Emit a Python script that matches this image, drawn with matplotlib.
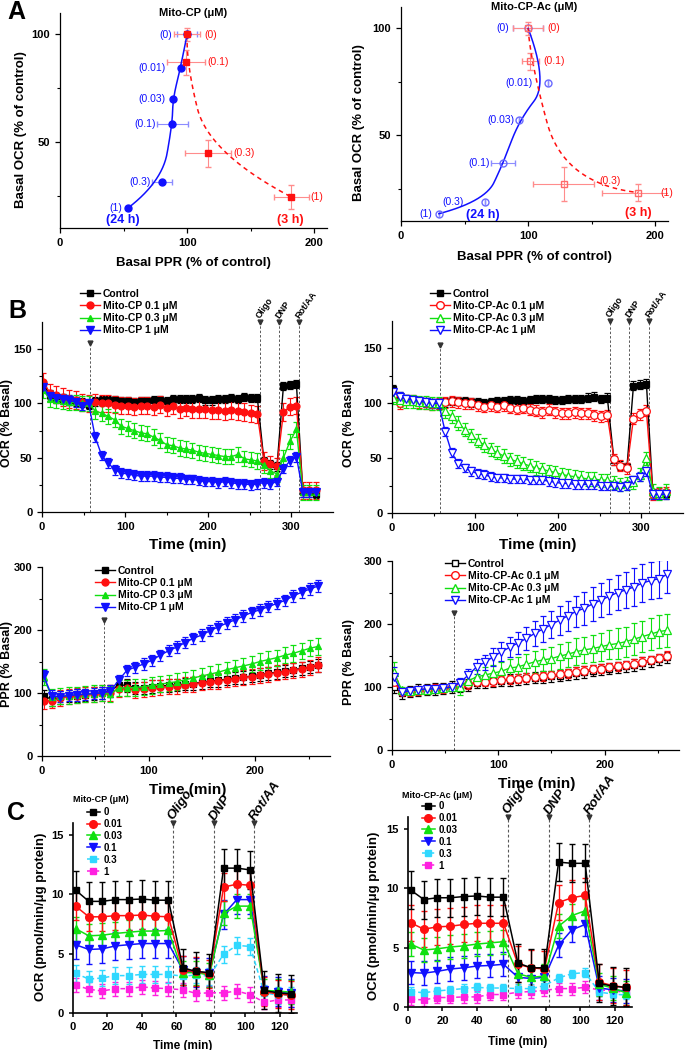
import numpy as np
import matplotlib
matplotlib.use('Agg')
import matplotlib.pyplot as plt
from matplotlib.lines import Line2D

plt.rcParams['font.family'] = ['Liberation Sans', 'DejaVu Sans']
plt.rcParams['font.weight'] = 'bold'
plt.rcParams['axes.labelweight'] = 'bold'
plt.rcParams['axes.linewidth'] = 0.9

RED = '#ff1010'
GREEN = '#10e010'
BLUE = '#1010ff'
CYAN = '#30d8ff'
MAGENTA = '#ff20e0'

# ---------------- Panel A data ----------------
a_cp_labels24 = ['(0)', '(0.01)', '(0.03)', '(0.1)', '(0.3)', '(1)']
a_cp_ppr24 = [100, 94.8, 88.8, 88.3, 80.2, 53.5]
a_cp_ocr24 = [100, 84.5, 70.2, 58.2, 31.4, 19.3]
a_cp_xerr24 = [8, 0, 0, 12, 8, 0]
a_cp_labels3 = ['(0)', '(0.1)', '(0.3)', '(1)']
a_cp_ppr3 = [100, 99.2, 116.7, 182]
a_cp_ocr3 = [100, 87, 44.7, 24.4]
a_cp_xerr3 = [10.5, 15, 18, 13.6]
a_cp_yerr3 = [3, 6, 6.4, 5.7]

a_ac_ppr24 = [100, 116, 92.9, 80.4, 66, 29.8]
a_ac_ocr24 = [100, 74.7, 57.1, 37, 19.1, 13.4]
a_ac_xerr24 = [12, 0, 0, 9.4, 0, 0]
a_ac_ppr3 = [100, 101.8, 128, 186.4]
a_ac_ocr3 = [100, 84.6, 27.3, 23.3]
a_ac_xerr3 = [12, 6.4, 24, 28]
a_ac_yerr3 = [3, 3.9, 7.8, 4]

# ---------------- Panel B data ----------------
t_ocr = [1.5, 9.3, 17.1, 24.9, 32.7, 40.5, 48.3, 56.1,
         64.0, 71.8, 79.6, 87.4, 95.2, 103.0, 110.8, 118.6, 126.4, 134.2,
         142.0, 149.8, 157.6, 165.4, 173.2, 181.0, 188.8, 196.6, 204.4,
         212.2, 220.0, 227.8, 235.6, 243.4, 251.2, 259.0,
         267.0, 274.8, 282.6, 290.4, 298.2, 306.0, 313.8, 321.6, 329.4]
t_ppr = t_ocr[:34]

ocr_cp_ctrl = [118, 108, 105, 104, 103, 102, 101, 99,
               102, 103, 103, 103, 102, 102, 101, 102, 102, 103, 103, 102, 104,
               104, 104, 104, 105, 103, 103, 104, 104, 105, 104, 106, 105, 105,
               47, 44, 42, 116, 117, 118, 18, 18, 17]
ocr_cp_01 = [120, 110, 108, 106, 104, 103, 101, 100,
             101, 100, 100, 99, 98, 98, 97, 98, 98, 97, 99, 96, 98, 95, 96, 95,
             95, 95, 94, 94, 93, 94, 93, 92, 91, 90,
             47, 44, 42, 92, 97, 98, 20, 20, 20]
ocr_cp_03 = [112, 104, 103, 102, 101, 101, 100, 100,
             93, 91, 88, 85, 79, 77, 75, 73, 72, 69, 66, 62, 61, 59, 58, 57,
             55, 54, 53, 52, 51, 51, 53, 49, 48, 47,
             43, 38, 35, 50, 65, 76, 18, 18, 18]
ocr_cp_1 = [115, 107, 105, 104, 103, 101, 98, 100,
            69, 52, 45, 39, 36, 35, 34, 33, 33, 33, 32, 32, 31, 31, 30, 30,
            29, 28, 28, 27, 28, 27, 26, 26, 25, 26,
            27, 26, 28, 40, 47, 51, 18, 18, 18]
ocr_cp_err = [4, 8, 7, 4.5]

ocr_ac_ctrl = [113, 106, 104, 103, 102, 101, 100, 99,
               101, 102, 102, 102, 101, 101, 100, 101, 102, 102, 103, 103, 102,
               103, 104, 104, 104, 103, 103, 104, 104, 104, 105, 106, 104, 105,
               48, 43, 42, 116, 117, 118, 18, 17, 17]
ocr_ac_01 = [108, 100, 103, 103, 101, 100, 99, 100,
             101, 102, 101, 100, 100, 98, 97, 98, 97, 98, 96, 95, 96, 94, 93, 92,
             94, 92, 91, 91, 92, 91, 91, 89, 88, 89,
             49, 43, 41, 86, 90, 93, 17, 18, 19]
ocr_ac_03 = [105, 103, 102, 102, 101, 101, 100, 100,
             93, 88, 82, 76, 71, 66, 62, 58, 55, 52, 49, 47, 45, 43, 41, 40,
             38, 37, 35, 34, 33, 32, 31, 31, 30, 30,
             28, 26, 27, 28, 35, 50, 20, 18, 20]
ocr_ac_1 = [110, 106, 104, 103, 102, 101, 100, 100,
            74, 55, 45, 41, 38, 36, 35, 33, 32, 32, 31, 31, 31, 30, 30, 30,
            29, 28, 27, 27, 26, 26, 26, 26, 25, 25,
            25, 24, 25, 30, 33, 38, 17, 17, 17]
ocr_ac_err = [4, 5, 6, 4]

ppr_cp_ctrl = [95, 90, 93, 95, 96, 97, 99, 100,
               103, 113, 112, 108, 108, 110, 111, 112, 113, 114, 115, 117, 119,
               120, 122, 124, 125, 127, 129, 131, 133, 135, 137, 139, 141, 144]
ppr_cp_01 = [87, 88, 92, 95, 96, 97, 98, 100,
             100, 106, 108, 104, 106, 108, 109, 110, 111, 113, 114, 116, 118,
             119, 121, 123, 125, 126, 128, 130, 132, 134, 136, 138, 141, 145]
ppr_cp_03 = [125, 93, 95, 96, 97, 98, 99, 100,
             98, 108, 108, 109, 110, 112, 114, 116, 118, 121, 124, 127, 130,
             133, 137, 140, 143, 146, 150, 153, 156, 160, 163, 167, 171, 174]
ppr_cp_1 = [128, 95, 94, 96, 97, 98, 99, 100,
            103, 120, 136, 141, 146, 152, 160, 167, 173, 180, 187, 192, 199,
            205, 211, 216, 222, 228, 232, 237, 242, 247, 254, 260, 265, 270]
ppr_cp_err = [10, 12, 13, 9]

ppr_ac_ctrl = [100, 90, 93, 95, 96, 97, 98, 100,
               101, 103, 107, 108, 109, 110, 111, 112, 114, 115, 116, 117, 118,
               120, 122, 124, 126, 128, 129, 131, 133, 135, 138, 141, 144, 147]
ppr_ac_01 = [108, 92, 93, 95, 96, 97, 98, 100,
             102, 104, 108, 108, 109, 111, 112, 113, 115, 116, 117, 119, 120,
             122, 124, 126, 128, 129, 131, 133, 135, 137, 140, 143, 146, 150]
ppr_ac_03 = [124, 95, 94, 95, 96, 97, 98, 100,
             100, 110, 116, 119, 122, 125, 130, 132, 136, 140, 143, 145, 149,
             152, 156, 159, 161, 164, 167, 169, 172, 176, 180, 184, 188, 190]
ppr_ac_1 = [116, 92, 94, 96, 97, 97, 98, 100,
            107, 119, 132, 139, 148, 156, 163, 170, 177, 185, 192, 199, 206,
            213, 220, 225, 232, 238, 244, 250, 254, 259, 265, 269, 272, 279]
ppr_ac_ctrl_err = 9
ppr_ac_01_err = 7
ppr_ac_03_err = [15, 5, 4, 4, 4, 4, 4, 4,
                 12, 10, 11, 12, 13, 14, 15, 16, 17, 17, 18, 19, 20, 20, 21,
                 21, 22, 22, 23, 24, 24, 25, 25, 25, 26, 26]
ppr_ac_1_err = [15, 5, 4, 4, 4, 4, 4, 4,
                8, 10, 12, 12, 14, 15, 16, 18, 19, 20, 21, 22, 23, 24, 25, 26,
                27, 27, 28, 28, 29, 30, 30, 30, 30, 30]

# ---------------- Panel C data ----------------
t_c = [1.5, 9.2, 16.9, 24.6, 32.3, 40.0, 47.7, 55.4, 63.8, 71.5, 79.2,
       87.4, 95.1, 102.8, 111.0, 118.7, 126.4]
c_doses = ['0', '0.01', '0.03', '0.1', '0.3', '1']

cp_c0 = [10.35, 9.4, 9.4, 9.55, 9.55, 9.6, 9.5, 9.5, 3.8, 3.5, 3.4, 12.2, 12.2, 12.05, 1.9, 1.7, 1.6]
cp_c001 = [9.0, 8.1, 8.1, 8.2, 8.2, 8.25, 8.15, 8.1, 3.6, 3.5, 3.3, 10.6, 10.85, 10.75, 1.8, 1.6, 1.5]
cp_c003 = [7.1, 6.5, 6.55, 6.7, 6.8, 6.9, 6.9, 6.95, 3.4, 3.4, 3.2, 8.4, 9.0, 9.0, 1.9, 1.85, 1.75]
cp_c01 = [5.75, 5.35, 5.4, 5.65, 5.75, 5.85, 5.85, 5.85, 3.6, 3.4, 3.4, 8.3, 9.55, 9.55, 1.9, 1.8, 1.7]
cp_c03 = [3.35, 2.85, 2.95, 3.15, 3.15, 3.25, 3.25, 3.25, 3.1, 3.2, 3.1, 4.95, 5.7, 5.6, 1.7, 1.5, 1.5]
cp_c1 = [2.35, 2.0, 1.85, 2.05, 2.05, 2.2, 2.1, 2.05, 1.95, 1.65, 1.7, 1.7, 1.85, 1.55, 0.9, 1.1, 1.1]
cp_c_err = [1.6, 1.2, 1.0, 1.2, 0.7, 0.6]

ac_c0 = [9.85, 9.05, 9.2, 9.2, 9.3, 9.35, 9.25, 9.25, 3.7, 3.3, 3.3, 12.2, 12.1, 12.1, 2.0, 1.75, 1.65]
ac_c001 = [7.1, 6.55, 6.75, 6.8, 6.95, 7.05, 7.05, 7.05, 3.6, 3.3, 3.2, 8.8, 9.2, 9.4, 2.1, 1.8, 1.65]
ac_c003 = [5.3, 4.8, 4.9, 5.05, 5.15, 5.3, 5.4, 5.5, 2.8, 2.5, 2.6, 6.8, 7.7, 8.1, 1.9, 1.6, 1.2]
ac_c01 = [2.9, 2.85, 3.0, 3.2, 3.3, 3.45, 3.5, 3.6, 2.5, 2.4, 2.5, 5.2, 6.5, 6.95, 1.6, 1.45, 1.35]
ac_c03 = [1.3, 1.2, 1.35, 1.45, 1.55, 1.65, 1.6, 1.6, 1.55, 1.55, 1.8, 2.45, 2.8, 2.9, 1.25, 1.1, 1.0]
ac_c1 = [0.65, 0.6, 0.8, 0.8, 0.85, 0.85, 1.05, 1.05, 1.25, 1.3, 1.4, 1.55, 1.55, 1.65, 1.45, 1.35, 1.25]
ac_c_err = [1.6, 1.5, 1.0, 1.0, 0.35, 0.5]

W, H = 685, 1050
fig = plt.figure(figsize=(W / 100, H / 100), dpi=100)


def box(l, t, r, b):
    return [l / W, 1 - b / H, (r - l) / W, (b - t) / H]


def style(ax, fs=8):
    for s in ['top', 'right']:
        ax.spines[s].set_visible(False)
    ax.tick_params(which='major', direction='out', length=3.5, width=0.9, labelsize=fs)
    ax.tick_params(which='minor', direction='out', length=2, width=0.8)


def bspline(px, py, n=60):
    # Origin-style quadratic B-spline through end points, interior points as controls
    P = np.column_stack([px, py]).astype(float)
    mids = [(P[i] + P[i + 1]) / 2 for i in range(1, len(P) - 2)]
    starts = [P[0]] + mids
    ends = mids + [P[-1]]
    t = np.linspace(0, 1, n)[:, None]
    segs = [(1 - t) ** 2 * s + 2 * t * (1 - t) * c + t ** 2 * e
            for s, c, e in zip(starts, P[1:-1], ends)]
    return np.vstack(segs)


# ================= Panel A =================
def panel_a(ax, p24, o24, x24, p3, o3, x3, y3, dx24, dx3, dy3, open_marks, title):
    style(ax, 8)
    ax.set_xlim(0, 210)
    ax.set_ylim(10, 110)
    ax.set_xticks([0, 100, 200])
    ax.set_xticks([50, 150], minor=True)
    ax.set_yticks([50, 100])
    ax.set_yticks([25, 75], minor=True)
    c24 = bspline(p24, o24)
    ax.plot(c24[:, 0], c24[:, 1], color=BLUE, lw=1.1, zorder=2)
    c3 = bspline(p3, o3)
    ax.plot(c3[:, 0], c3[:, 1], color=RED, lw=1.1, ls=(0, (3, 2.5)), zorder=2)
    ax.errorbar(p24, o24, xerr=x24, fmt='none', ecolor='#8c8cff', elinewidth=0.8,
                capsize=2, zorder=1)
    ax.errorbar(p3, o3, xerr=x3, yerr=y3, fmt='none', ecolor='#ff8c8c', elinewidth=0.8,
                capsize=2, zorder=1)
    if open_marks:
        ax.plot(p24, o24, 'o', ms=5, mfc='none', mec='#6a6aff', mew=1.0, ls='none', zorder=3)
        ax.plot(p3, o3, 's', ms=5, mfc='none', mec='#ff6a6a', mew=1.0, ls='none', zorder=3)
    else:
        ax.plot(p24, o24, 'o', ms=5, color=BLUE, ls='none', zorder=3)
        ax.plot(p3, o3, 's', ms=5, color=RED, ls='none', zorder=3)
    for lab, x, y, dx in zip(a_cp_labels24, p24, o24, dx24):
        ax.text(x + dx, y, lab, color=BLUE, fontsize=7.5, fontweight='normal',
                ha='right', va='center')
    for lab, x, y, dx, dy in zip(a_cp_labels3, p3, o3, dx3, dy3):
        ax.text(x + dx, y + dy, lab, color=RED, fontsize=7.5, fontweight='normal',
                ha='left', va='center')
    ax.text(0.5, 1.0, title, transform=ax.transAxes, fontsize=8, ha='center', va='center')


ax_a1 = fig.add_axes(box(60, 13, 327, 228))
panel_a(ax_a1, a_cp_ppr24, a_cp_ocr24, a_cp_xerr24, a_cp_ppr3, a_cp_ocr3,
        a_cp_xerr3, a_cp_yerr3, [-12, -12, -6, -12.5, -8.5, -4.5],
        [13.5, 17, 20, 15], [0, 0, 0, 0], False, 'Mito-CP (μM)')
ax_a1.text(49.6, 13.5, '(24 h)', color=BLUE, fontsize=9, ha='center', va='center')
ax_a1.text(181.5, 13.5, '(3 h)', color=RED, fontsize=9, ha='center', va='center')
ax_a1.set_ylabel('Basal OCR (% of control)', fontsize=9.5)
ax_a1.set_xlabel('Basal PPR (% of control)', fontsize=9.5)
ax_a1.yaxis.set_label_coords(-0.124, 0.46)
ax_a1.xaxis.set_label_coords(0.5, -0.135)

ax_a2 = fig.add_axes(box(401, 7, 668, 221))
panel_a(ax_a2, a_ac_ppr24, a_ac_ocr24, a_ac_xerr24, a_ac_ppr3, a_ac_ocr3,
        a_ac_xerr3, a_ac_yerr3, [-15, -12.6, -3.4, -10.4, -16.5, -5],
        [15, 10.5, 27.8, 17.6], [0, 0, 1.4, 0], True, 'Mito-CP-Ac (μM)')
ax_a2.text(64.7, 12.9, '(24 h)', color=BLUE, fontsize=9, ha='center', va='center')
ax_a2.text(186.4, 13.7, '(3 h)', color=RED, fontsize=9, ha='center', va='center')
ax_a2.set_ylabel('Basal OCR (% of control)', fontsize=9.5)
ax_a2.set_xlabel('Basal PPR (% of control)', fontsize=9.5)
ax_a2.yaxis.set_label_coords(-0.135, 0.458)
ax_a2.xaxis.set_label_coords(0.5, -0.14)


# ================= Panel B =================
def series(ax, t, y, err, color, marker, ms, filled=True, ls='-', lw=1.0, cap=2):
    ax.errorbar(t, y, yerr=err, color=color, marker=marker, ms=ms,
                mfc=color if filled else 'white', mec=color, mew=0.9, lw=lw, ls=ls,
                elinewidth=0.8, capsize=cap, capthick=0.8)


def inject(ax, xs, tops, names, fs, italic=False, lw=0.7):
    for x, top, name in zip(xs, tops, names):
        ax.plot([x, x], [0, top], ls=(0, (2.5, 2)), color='0.35', lw=lw, zorder=0)
        ax.plot(x, top, marker='v', ms=3.5, color='0.2', clip_on=False, zorder=5)
        if name:
            ax.annotate(name, xy=(x, top), xytext=(-1.5, 3), textcoords='offset points',
                        rotation=55, rotation_mode='anchor', ha='left', va='center',
                        fontsize=fs, style='italic' if italic else 'normal',
                        annotation_clip=False)


def b_axes(ax, xmax, ymax, yt, ymin_step, xlab_pos, ylab_pos, ylabel):
    style(ax, 8)
    ax.set_xlim(0, xmax)
    ax.set_ylim(0, ymax)
    ax.set_xticks([t for t in [0, 100, 200, 300] if t <= xmax])
    ax.set_xticks([t for t in [50, 150, 250] if t <= xmax], minor=True)
    ax.set_yticks(yt)
    ax.set_yticks(np.arange(ymin_step, ymax, ymin_step * 2), minor=True)
    ax.set_xlabel('Time (min)', fontsize=11)
    ax.set_ylabel(ylabel, fontsize=9)
    ax.xaxis.set_label_coords(*xlab_pos)
    ax.yaxis.set_label_coords(*ylab_pos)


def b_legend(ax, handles, labels, x, y):
    ax.legend(handles, labels, loc='upper left', bbox_to_anchor=(x / W, 1 - y / H),
              bbox_transform=fig.transFigure, frameon=False, borderpad=0,
              borderaxespad=0, handlelength=1.9, handletextpad=0.3,
              labelspacing=0.2, prop={'size': 7.5, 'weight': 'bold'})


def proxy(color, marker, ms, filled=True, ls='-'):
    return Line2D([], [], color=color, marker=marker, ms=ms, ls=ls, lw=1.0,
                  mfc=color if filled else 'white', mec=color)


cp_names = ['Control', 'Mito-CP 0.1 μM', 'Mito-CP 0.3 μM', 'Mito-CP 1 μM']
ac_names = ['Control', 'Mito-CP-Ac 0.1 μM', 'Mito-CP-Ac 0.3 μM', 'Mito-CP-Ac 1 μM']

# OCR, Mito-CP
ax_b1 = fig.add_axes(box(42, 322, 333, 512))
b_axes(ax_b1, 350, 175, [0, 50, 100, 150], 25, (0.5, -0.137), (-0.1, 0.47), 'OCR (% Basal)')
inject(ax_b1, [58, 262, 285, 309], [156, 175, 175, 175], ['', 'Oligo', 'DNP', 'Rot/AA'], 6.5)
series(ax_b1, t_ocr, ocr_cp_ctrl, ocr_cp_err[0], 'black', 's', 4.5)
series(ax_b1, t_ocr, ocr_cp_01, ocr_cp_err[1], RED, 'o', 5)
series(ax_b1, t_ocr, ocr_cp_03, ocr_cp_err[2], GREEN, '^', 5)
series(ax_b1, t_ocr, ocr_cp_1, ocr_cp_err[3], BLUE, 'v', 5.5)
b_legend(ax_b1, [proxy('black', 's', 4), proxy(RED, 'o', 5), proxy(GREEN, '^', 5),
                 proxy(BLUE, 'v', 5.5)], cp_names, 80, 289)

# OCR, Mito-CP-Ac
ax_b2 = fig.add_axes(box(392, 321, 683, 513))
b_axes(ax_b2, 350, 175, [0, 50, 100, 150], 25, (0.5, -0.13), (-0.127, 0.47), 'OCR (% Basal)')
inject(ax_b2, [58, 262, 285, 309], [153, 175, 175, 175], ['', 'Oligo', 'DNP', 'Rot/AA'], 6.5)
series(ax_b2, t_ocr, ocr_ac_ctrl, ocr_ac_err[0], 'black', 's', 4.5)
series(ax_b2, t_ocr, ocr_ac_01, ocr_ac_err[1], RED, 'o', 5.5, filled=False)
series(ax_b2, t_ocr, ocr_ac_03, ocr_ac_err[2], GREEN, '^', 6, filled=False)
series(ax_b2, t_ocr, ocr_ac_1, ocr_ac_err[3], BLUE, 'v', 6, filled=False)
b_legend(ax_b2, [proxy('black', 's', 4), proxy(RED, 'o', 5.5, False),
                 proxy(GREEN, '^', 6, False), proxy(BLUE, 'v', 6, False)], ac_names, 430, 289)

# PPR, Mito-CP
ax_b3 = fig.add_axes(box(42, 567, 330, 756))
b_axes(ax_b3, 270, 300, [0, 100, 200, 300], 50, (0.507, -0.143), (-0.1, 0.487), 'PPR (% Basal)')
inject(ax_b3, [58], [216], [''], 6.5)
series(ax_b3, t_ppr, ppr_cp_ctrl, ppr_cp_err[0], 'black', 's', 4.5)
series(ax_b3, t_ppr, ppr_cp_01, ppr_cp_err[1], RED, 'o', 5)
series(ax_b3, t_ppr, ppr_cp_03, ppr_cp_err[2], GREEN, '^', 5)
series(ax_b3, t_ppr, ppr_cp_1, ppr_cp_err[3], BLUE, 'v', 5.5)
b_legend(ax_b3, [proxy('black', 's', 4), proxy(RED, 'o', 5), proxy(GREEN, '^', 5),
                 proxy(BLUE, 'v', 5.5)], cp_names, 95, 566)

# PPR, Mito-CP-Ac
ax_b4 = fig.add_axes(box(392, 561, 679, 750))
b_axes(ax_b4, 270, 300, [0, 100, 200, 300], 50, (0.505, -0.143), (-0.129, 0.466), 'PPR (% Basal)')
inject(ax_b4, [58], [217], [''], 6.5)
series(ax_b4, t_ppr, ppr_ac_ctrl, ppr_ac_ctrl_err, 'black', 's', 4.5, filled=False)
series(ax_b4, t_ppr, ppr_ac_01, ppr_ac_01_err, RED, 'o', 5.5, filled=False)
series(ax_b4, t_ppr, ppr_ac_03, ppr_ac_03_err, GREEN, '^', 6, filled=False)
series(ax_b4, t_ppr, ppr_ac_1, ppr_ac_1_err, BLUE, 'v', 6, filled=False)
b_legend(ax_b4, [proxy('black', 's', 4, False), proxy(RED, 'o', 5.5, False),
                 proxy(GREEN, '^', 6, False), proxy(BLUE, 'v', 6, False)], ac_names, 445, 559)

# ================= Panel C =================
c_colors = ['black', RED, GREEN, BLUE, CYAN, MAGENTA]
c_markers = ['s', 'o', '^', 'v', 's', 's']
c_ms = [5, 5.5, 5.5, 5.5, 4.5, 4.5]
c_ls = ['-', '-', '-', '-', (0, (3, 2)), (0, (3, 2))]


def panel_c(ax, data, errs, title, tx, ty, lx, ly, xlab_pos, ylab_pos):
    for s in ['top', 'right']:
        ax.spines[s].set_visible(False)
    for s in ['left', 'bottom']:
        ax.spines[s].set_linewidth(1.2)
    ax.tick_params(direction='out', length=3, width=1.1, labelsize=8)
    ax.set_xlim(0, 130)
    ax.set_ylim(0, 16)
    ax.set_xticks(np.arange(0, 121, 20))
    ax.set_yticks([0, 5, 10, 15])
    inject(ax, [58, 82, 105], [16, 16, 16], ['Oligo', 'DNP', 'Rot/AA'], 9.5, italic=True, lw=0.8)
    for i in range(len(data) - 1, -1, -1):
        ax.errorbar(t_c, data[i], yerr=errs[i], color=c_colors[i], marker=c_markers[i],
                    ms=c_ms[i], ls=c_ls[i], lw=1.1, elinewidth=1.0, capsize=2, capthick=1.0)
    handles = [Line2D([], [], color=c, marker=m, ms=ms, ls=ls, lw=1.1)
               for c, m, ms, ls in zip(c_colors, c_markers, c_ms, c_ls)]
    ax.legend(handles, c_doses, loc='upper left', bbox_to_anchor=(lx / W, 1 - ly / H),
              bbox_transform=fig.transFigure, frameon=False, borderpad=0,
              borderaxespad=0, handlelength=1.3, handletextpad=0.4,
              labelspacing=0.2, prop={'size': 7, 'weight': 'bold'})
    fig.text(tx / W, 1 - ty / H, title, fontsize=6.5, ha='left', va='center')
    ax.set_xlabel('Time (min)', fontsize=8.5)
    ax.set_ylabel('OCR (pmol/min/μg protein)', fontsize=9.5)
    ax.xaxis.set_label_coords(*xlab_pos)
    ax.yaxis.set_label_coords(*ylab_pos)


ax_c1 = fig.add_axes(box(73, 823, 297, 1013))
panel_c(ax_c1, [cp_c0, cp_c001, cp_c003, cp_c01, cp_c03, cp_c1], cp_c_err,
        'Mito-CP (μM)', 73, 800, 87, 807, (0.49, -0.14), (-0.116, 0.505))

ax_c2 = fig.add_axes(box(408, 817, 632, 1007))
panel_c(ax_c2, [ac_c0, ac_c001, ac_c003, ac_c01, ac_c03, ac_c1], ac_c_err,
        'Mito-CP-Ac (μM)', 402, 795, 422, 801, (0.49, -0.155), (-0.125, 0.48))

# panel letters
for letter, x, y in [('A', 16, 12), ('B', 17, 311), ('C', 16, 813)]:
    fig.text(x / W, 1 - y / H, letter, fontsize=18, ha='center', va='center')

fig.savefig('out.png', dpi=100)
